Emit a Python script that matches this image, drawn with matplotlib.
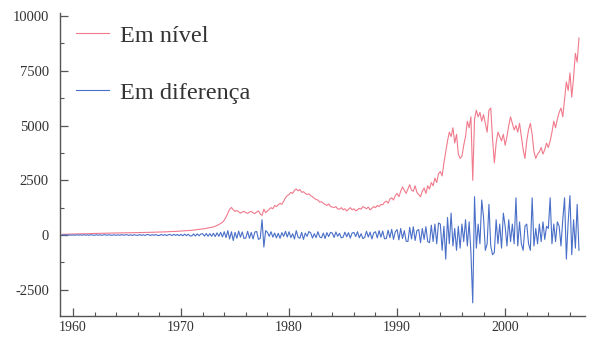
import numpy as np
import matplotlib
matplotlib.use("Agg")
import matplotlib.pyplot as plt
from matplotlib.ticker import MultipleLocator

# series, 6 points per year from 1959 to 2006
start_year = 1959
per_year = 6

nivel = [
    30, 35, 35, 40, 40, 45,
    45, 50, 50, 55, 55, 55,
    60, 60, 60, 65, 65, 70,
    70, 70, 75, 75, 80, 80,
    80, 85, 85, 90, 90, 90,
    95, 95, 95, 100, 100, 100,
    100, 105, 105, 105, 110, 110,
    110, 115, 115, 115, 120, 120,
    120, 125, 125, 130, 130, 135,
    135, 140, 140, 145, 150, 150,
    155, 160, 160, 165, 170, 175,
    180, 185, 190, 195, 200, 210,
    215, 225, 235, 245, 255, 265,
    275, 290, 305, 320, 335, 350,
    370, 400, 440, 480, 530, 580,
    680, 820, 1000, 1180, 1260, 1150,
    1080, 1120, 1060, 1000, 1050, 1080,
    1020, 990, 1050, 1080, 1010, 980,
    1050, 1100, 960, 900, 1180, 1020,
    1100, 1180, 1250, 1200, 1350, 1300,
    1380, 1450, 1400, 1550, 1700, 1800,
    1850, 1950, 1900, 2050, 2100, 2020,
    2080, 1950, 1980, 1900, 1850, 1880,
    1800, 1750, 1680, 1620, 1600, 1500,
    1520, 1450, 1400, 1350, 1420, 1300,
    1280, 1250, 1300, 1200, 1180, 1250,
    1150, 1200, 1100, 1180, 1250, 1150,
    1200, 1100, 1150, 1220, 1180, 1300,
    1250, 1200, 1280, 1150, 1220, 1300,
    1250, 1350, 1300, 1400, 1380, 1500,
    1550, 1450, 1650, 1700, 1600, 1800,
    1900, 1750, 2000, 2200, 2050, 1900,
    2100, 2300, 2050, 2000, 2250, 1950,
    1850, 1750, 2000, 2150, 1900, 2250,
    2100, 2400, 2250, 2600, 2400, 2800,
    2900, 2700, 3300, 3800, 4300, 4700,
    4500, 4900, 4200, 4600, 3700, 3500,
    3600, 4100, 4500, 5200, 4900, 5400,
    2500, 5300, 5700, 5400, 5600, 5200,
    5500, 5100, 4700, 5700, 5800, 4400,
    3300, 4200, 4700, 4500, 4300, 4600,
    4100, 4500, 5000, 5400, 5100, 4800,
    5000, 4700, 5100, 4500, 3900, 3500,
    4300, 4800, 5100, 4600, 3800, 3500,
    3700, 3800, 4000, 3700, 3900, 4200,
    4000, 4300, 4700, 5200, 4900, 5300,
    5600, 5800, 5400, 6200, 7000, 6600,
    7400, 6300, 7200, 8300, 7900, 9000,
]

diferenca = [
    10, -5, 8, -10, 5, -8,
    6, -12, 10, -6, 8, -10,
    12, -8, 6, -10, 15, -5,
    -10, 12, -8, 10, -15, 8,
    10, -12, 15, -8, -10, 12,
    -15, 10, -12, 18, -10, 8,
    12, -15, 10, -20, 15, -10,
    -12, 18, -15, 10, -18, 20,
    15, -20, 18, -15, 22, -18,
    -20, 25, -18, 20, -25, 15,
    22, -25, 30, -20, 25, -30,
    30, -35, 40, -30, 35, -40,
    -40, 50, -45, 55, -35, 45,
    60, -50, 70, -55, 65, -60,
    80, -70, 100, -60, 120, -90,
    150, -120, 200, -180, 150, -250,
    120, -150, 180, -100, 140, -160,
    -130, 170, -150, 120, -180, 140,
    160, -200, -150, 700, -550, 200,
    120, -60, 150, -100, 90, -130,
    80, -150, 110, -60, 170, -90,
    150, -120, 60, -180, 200, -100,
    -150, 120, -200, 90, -60, 160,
    100, -140, 60, -120, 150, -80,
    -130, 90, -160, 110, -70, 120,
    90, -110, 140, -60, 80, -130,
    -100, 130, -80, 110, -140, 90,
    120, -70, 150, -130, 60, -160,
    -110, 170, -90, 130, -180, 100,
    150, -130, 200, -100, 180, -170,
    -160, 220, -120, 260, -200, 150,
    250, -220, 300, -160, 200, -280,
    -300, 350, -180, 380, -250, 200,
    250, -350, 300, -200, 380, -300,
    -350, 450, -300, 500, -400, 550,
    500, -700, 400, -1100, 800, -400,
    1000, -500, 300, -700, 400, -600,
    500, -300, 700, -500, 600, -800,
    -3100, 1750, -600, 500, -400, 1600,
    800, -700, -400, 1400, -500, -900,
    -800, 700, -400, 500, -600, 1000,
    400, -500, 700, -300, 500, -400,
    1700, -500, 600, -400, -700, 400,
    500, -400, -700, 1700, -500, 300,
    -400, 500, -300, 600, -200, 400,
    300, 1700, -400, 500, -300, 600,
    400, -500, 700, 1700, -1100, 600,
    1800, -900, 700, -600, 1400, -700,
]

years = start_year + np.arange(len(nivel)) / per_year

plt.rcParams["font.family"] = ["Liberation Serif", "DejaVu Serif"]
plt.rcParams["axes.unicode_minus"] = False

fig = plt.figure(figsize=(5.96, 3.41), dpi=100)
ax = fig.add_axes([0.1007, 0.0733, 0.881, 0.889])

ax.plot(years, nivel, color="#f07a8c", lw=0.8, label="Em nível")
ax.plot(years, diferenca, color="#4a6fc8", lw=0.8, label="Em diferença")

ax.set_xlim(1958.8, 2007.4)
ax.set_ylim(-3700, 10150)
ax.xaxis.set_major_locator(MultipleLocator(10))
ax.xaxis.set_minor_locator(MultipleLocator(2))
ax.yaxis.set_major_locator(MultipleLocator(2500))
ax.yaxis.set_minor_locator(MultipleLocator(1250))

for side in ["top", "right"]:
    ax.spines[side].set_visible(False)
for side in ["left", "bottom"]:
    ax.spines[side].set_color("#555555")
    ax.spines[side].set_linewidth(1.0)

ax.tick_params(which="both", direction="in", color="#555555", labelcolor="#333333",
               labelsize=10)
ax.tick_params(which="major", length=6, width=0.9)
ax.tick_params(which="minor", length=3, width=0.8)
ax.tick_params(axis="y", which="major", labelsize=10.5, pad=8)

ax.legend(loc="upper left", bbox_to_anchor=(0.1275, 0.928), bbox_transform=fig.transFigure,
          frameon=False, fontsize=17.5, handlelength=1.35, handletextpad=0.45,
          labelspacing=1.45, borderpad=0, borderaxespad=0, labelcolor="#333333")

fig.savefig("out.png", dpi=100, facecolor="white")
